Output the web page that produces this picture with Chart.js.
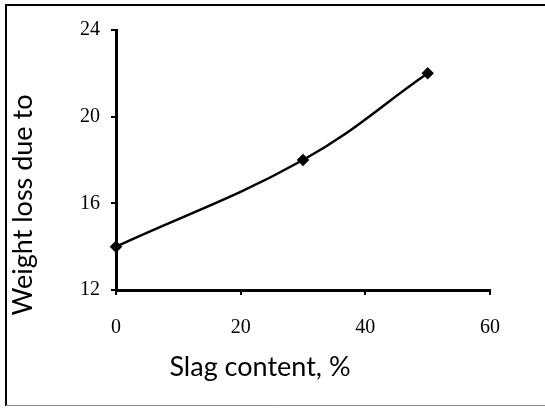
<!DOCTYPE html>
<html>
<head>
<meta charset="utf-8">
<script src="https://cdn.jsdelivr.net/npm/chart.js@4"></script>
<style>
  html, body { margin: 0; padding: 0; background: #fff; }
  #wrap { width: 545px; height: 408px; position: relative; }
</style>
</head>
<body>
<div id="wrap"><canvas id="slagChart"></canvas></div>
<script>
// data
const slagContent = [0, 30, 50];
const weightLoss = [14, 18, 22];
const xTicks = [0, 20, 40, 60];
const yTicks = [12, 16, 20, 24];
const xTitle = 'Slag content, %';
const yTitle = 'Weight loss due to';

const tickFont = { family: "'Liberation Serif', 'Times New Roman', serif", size: 20 };
const titleFont = "27px Lato, 'Open Sans', sans-serif";

// frame round the figure and the two axis titles (placed like the original, off-centre)
const decor = {
  id: 'decor',
  beforeDraw(chart) {
    const ctx = chart.ctx;
    ctx.save();
    ctx.fillStyle = '#fff';
    ctx.fillRect(0, 0, chart.width, chart.height);
    ctx.strokeStyle = '#000';
    ctx.lineWidth = 2;
    ctx.beginPath();
    ctx.moveTo(6, 406);
    ctx.lineTo(6, 5);
    ctx.lineTo(545, 5);
    ctx.stroke();
    ctx.strokeStyle = '#888';
    ctx.lineWidth = 1;
    ctx.beginPath();
    ctx.moveTo(6, 405.5);
    ctx.lineTo(545, 405.5);
    ctx.stroke();
    ctx.restore();
  },
  afterDraw(chart) {
    const ctx = chart.ctx;
    const area = chart.chartArea;
    ctx.save();
    ctx.fillStyle = '#000';
    ctx.font = titleFont;
    ctx.textAlign = 'center';
    ctx.textBaseline = 'middle';
    ctx.fillText(xTitle, area.left + 144, area.bottom + 77);
    ctx.translate(area.left - 93, area.top + 175);
    ctx.rotate(-Math.PI / 2);
    ctx.fillText(yTitle, 0, 0);
    ctx.restore();
  }
};

const points = slagContent.map((x, i) => ({ x: x, y: weightLoss[i] }));

new Chart(document.getElementById('slagChart'), {
  type: 'line',
  data: {
    datasets: [{
      data: points,
      borderColor: '#000',
      backgroundColor: '#000',
      borderWidth: 2.5,
      tension: 0.4,
      clip: false,
      pointStyle: 'rectRot',
      pointRadius: 4.5,
      pointHoverRadius: 4.5
    }]
  },
  options: {
    responsive: true,
    maintainAspectRatio: false,
    animation: false,
    events: [],
    layout: { padding: { left: 0, top: 30, right: 55, bottom: 0 } },
    plugins: { legend: { display: false }, tooltip: { enabled: false } },
    scales: {
      x: {
        type: 'linear',
        min: xTicks[0],
        max: xTicks[xTicks.length - 1],
        afterFit(scale) { scale.height = 118; },
        afterBuildTicks(scale) { scale.ticks = xTicks.map(v => ({ value: v })); },
        border: { color: '#000', width: 3, z: -1 },
        grid: { display: true, drawOnChartArea: false, drawTicks: true, tickLength: 5, color: '#000', lineWidth: 2 },
        ticks: { color: '#000', font: tickFont, padding: 21, maxRotation: 0 }
      },
      y: {
        min: yTicks[0],
        max: yTicks[yTicks.length - 1],
        afterFit(scale) { scale.width = 116; },
        afterBuildTicks(scale) { scale.ticks = yTicks.map(v => ({ value: v })); },
        border: { color: '#000', width: 3, z: -1 },
        grid: { display: true, drawOnChartArea: false, drawTicks: true, tickLength: 5, color: '#000', lineWidth: 2 },
        ticks: { color: '#000', font: tickFont, padding: 11 }
      }
    }
  },
  plugins: [decor]
});
</script>
</body>
</html>
